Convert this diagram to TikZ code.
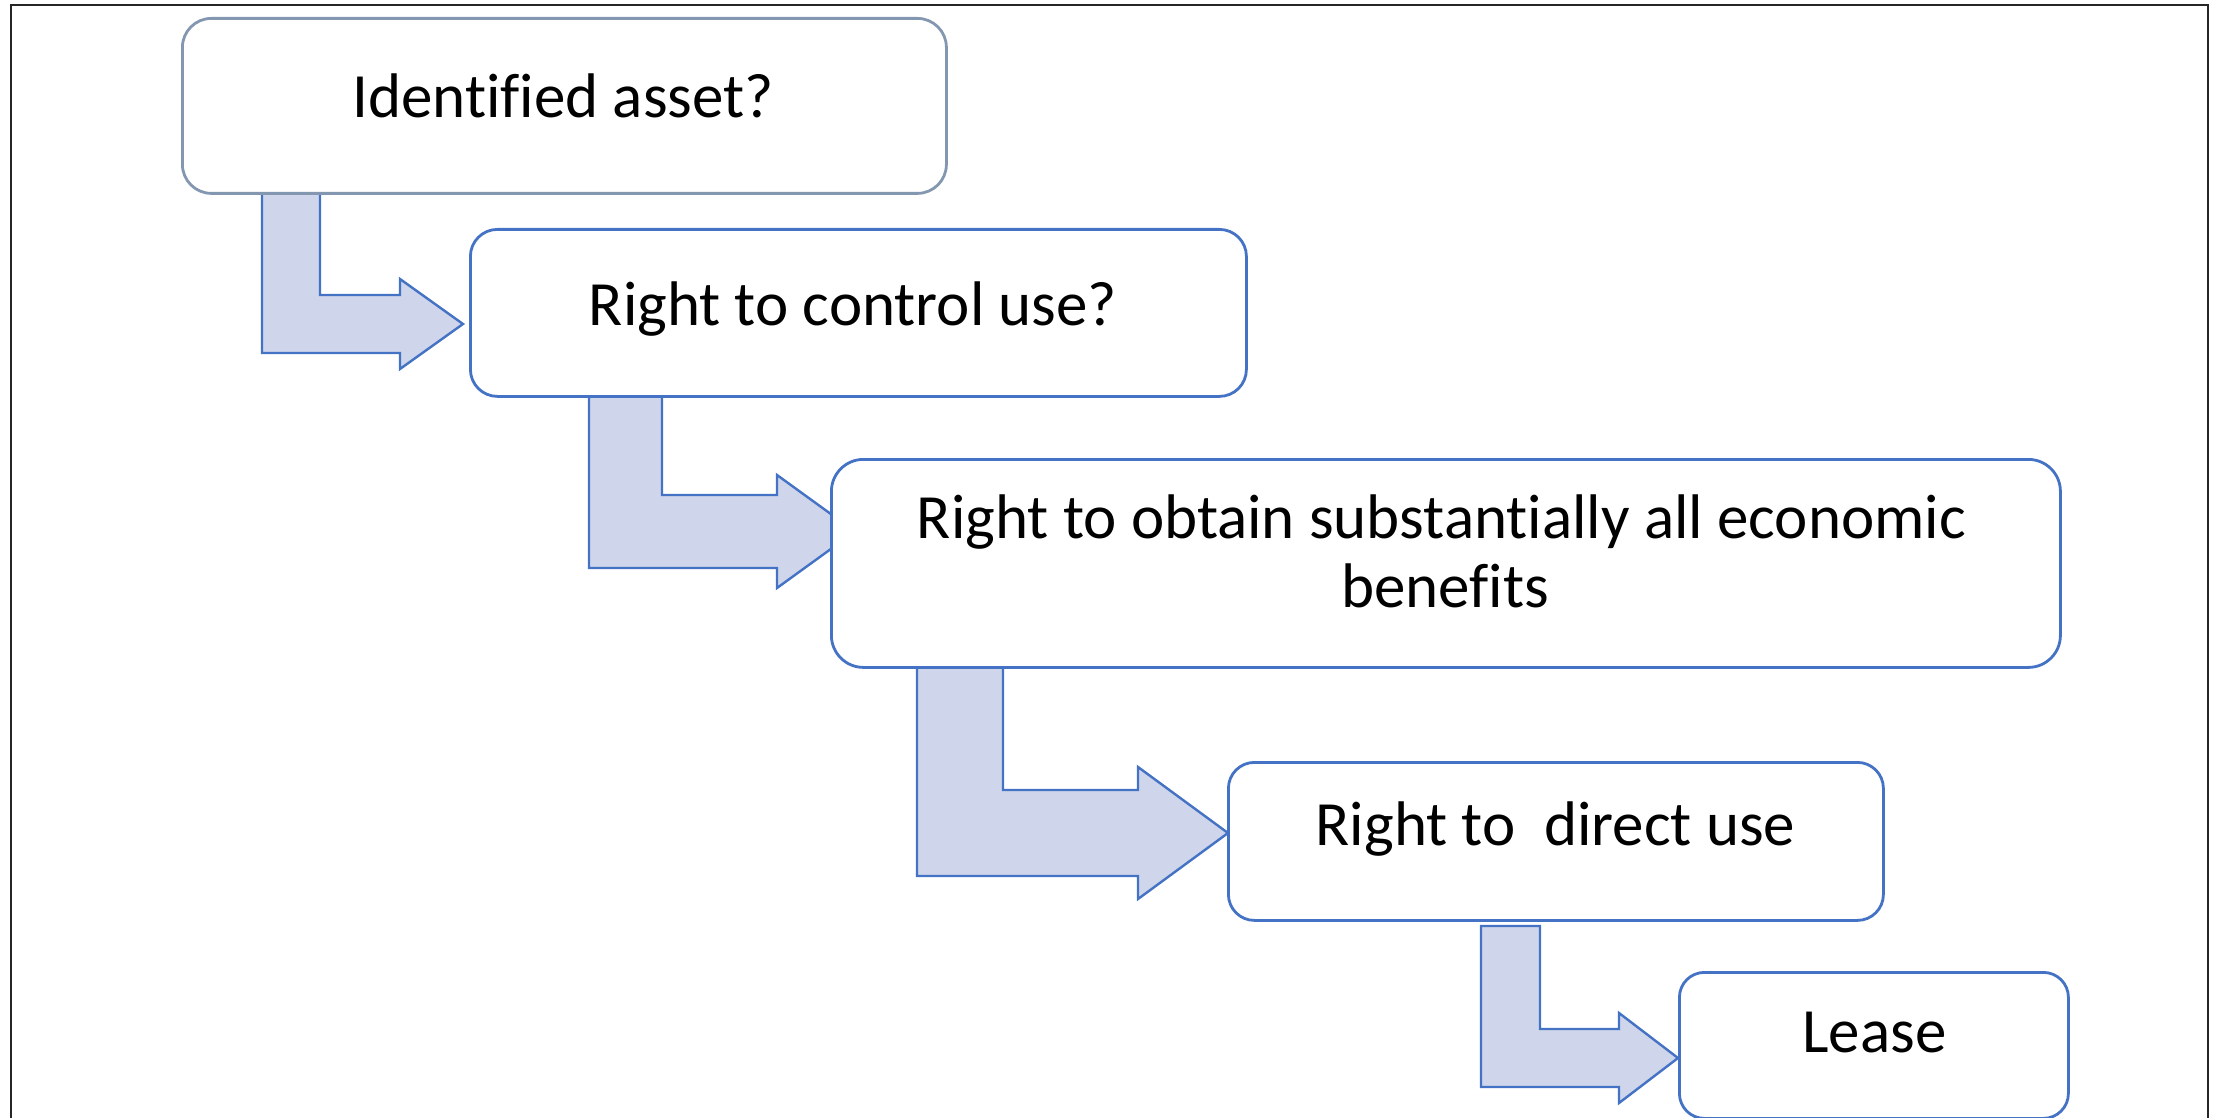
\documentclass[tikz,border=0pt]{standalone}
\usepackage{fontspec}
\setmainfont{Carlito}[Ligatures=NoCommon]
\definecolor{boxblue}{RGB}{68,114,196}
\definecolor{boxgrey}{RGB}{132,151,176}
\definecolor{arrowfill}{RGB}{207,213,234}
\begin{document}
\begin{tikzpicture}[x=1pt,y=-1pt,
  stepbox/.style={draw=boxblue,line width=2.8pt,fill=white,inner sep=0pt,
    anchor=north west,rectangle},
  bentarrow/.style={draw=boxblue,line width=2.4pt,fill=arrowfill,line join=miter},
  label/.style={font=\fontsize{63}{69}\selectfont,anchor=base,inner sep=0pt,text=black}]
\useasboundingbox (0,0) rectangle (2219,1118);
% frame
\draw[line width=2.2pt,black!85] (11,1140) -- (11,5) -- (2208,5) -- (2208,1140);
% bent arrows (behind boxes)
\draw[bentarrow] (262,191) -- (320,191) -- (320,295) -- (400,295) -- (400,279) -- (463,324)
  -- (400,369) -- (400,353) -- (262,353) -- cycle;
\draw[bentarrow] (589,395) -- (662,395) -- (662,495) -- (777,495) -- (777,475) -- (855,531.5)
  -- (777,588) -- (777,568) -- (589,568) -- cycle;
\draw[bentarrow] (917,666) -- (1003,666) -- (1003,790) -- (1138,790) -- (1138,767) -- (1228,833)
  -- (1138,899) -- (1138,876) -- (917,876) -- cycle;
\draw[bentarrow] (1481,926) -- (1540,926) -- (1540,1029) -- (1619,1029) -- (1619,1013) -- (1678,1058)
  -- (1619,1103) -- (1619,1087) -- (1481,1087) -- cycle;
% boxes
\node[stepbox,draw=boxgrey,rounded corners=29pt,minimum width=764pt,minimum height=175pt] (b1) at (181,17) {};
\node[stepbox,rounded corners=27pt,minimum width=776pt,minimum height=167pt] (b2) at (469,228) {};
\node[stepbox,rounded corners=32pt,minimum width=1229pt,minimum height=208pt] (b3) at (830,458) {};
\node[stepbox,rounded corners=26pt,minimum width=655pt,minimum height=158pt] (b4) at (1227,761) {};
\node[stepbox,rounded corners=25pt,minimum width=389pt,minimum height=146pt] (b5) at (1678,971) {};
% texts
\node[label] (t1) at (563,118) {Identified asset?};
\node[label] (t2) at (853,325) {Right to control use?};
\node[label] (t3a) at (1441.5,538) {Right to obtain substantially all economic};
\node[label] (t3b) at (1445,607) {benefits};
\node[label] (t4) at (1555.5,845) {Right to\ \ direct use};
\node[label] (t5) at (1874.5,1052) {Lease};
\end{tikzpicture}
\end{document}
